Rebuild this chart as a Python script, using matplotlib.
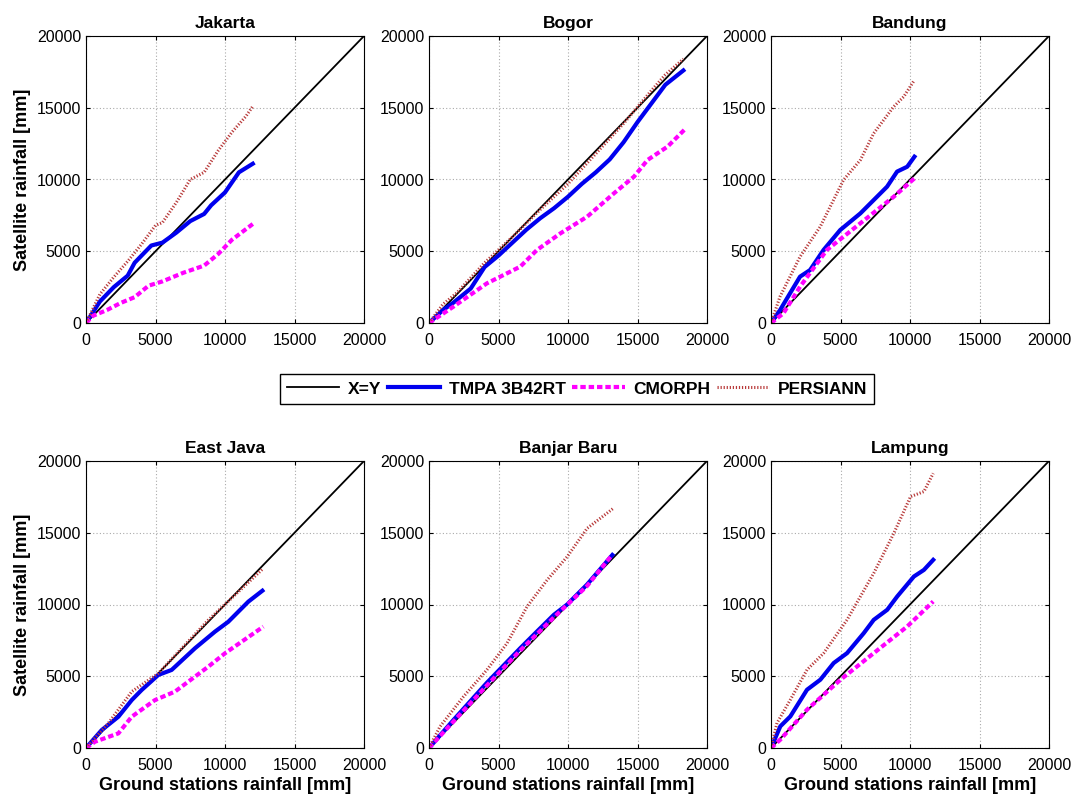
import matplotlib.pyplot as plt

plt.rcParams["font.family"] = ["Liberation Sans", "DejaVu Sans"]

stations = ["Jakarta", "Bogor", "Bandung", "East Java", "Banjar Baru", "Lampung"]

# cumulative rainfall curves, (ground, satellite) in mm
tmpa_x = [
    [0, 1000, 2000, 3000, 3500, 4000, 4700, 5500, 6500, 7500, 8500, 9000, 10000, 11000, 12000],
    [0, 1000, 1760, 3000, 4000, 5000, 6000, 7000, 8000, 9000, 10000, 11000, 12000, 13000, 14000, 15000, 16000, 17000, 18300],
    [0, 650, 1370, 2090, 2810, 3780, 4980, 6430, 7390, 8350, 9070, 9800, 10320],
    [0, 1130, 2330, 3290, 4000, 5200, 6160, 7840, 9280, 10240, 11680, 12690],
    [0, 1760, 4160, 6570, 7770, 8980, 9940, 11380, 13190],
    [0, 670, 1390, 2590, 3550, 4510, 5470, 6670, 7390, 8360, 9080, 10280, 11000, 11670],
]
tmpa_y = [
    [0, 1500, 2500, 3300, 4200, 4700, 5400, 5600, 6300, 7100, 7600, 8200, 9100, 10500, 11100],
    [0, 900, 1420, 2400, 3900, 4700, 5600, 6500, 7300, 8000, 8800, 9700, 10500, 11400, 12600, 14000, 15300, 16600, 17600],
    [0, 900, 2070, 3230, 3690, 5090, 6480, 7640, 8570, 9500, 10550, 10890, 11590],
    [0, 1250, 2180, 3340, 4040, 5090, 5440, 6950, 8110, 8800, 10200, 10960],
    [0, 1950, 4540, 6960, 8120, 9280, 10000, 11400, 13450],
    [0, 1510, 2200, 4060, 4760, 5920, 6610, 8000, 8930, 9630, 10560, 11950, 12410, 13110],
]
cmorph_x = [
    [0, 500, 1500, 2500, 3500, 4500, 5500, 7000, 8500, 9500, 10500, 12000],
    [0, 1760, 4160, 6570, 7770, 9460, 11380, 13310, 14750, 15720, 17160, 18360],
    [0, 890, 2090, 4020, 6430, 8830, 10320],
    [0, 650, 2330, 3290, 4960, 6400, 8800, 10000, 12760],
    [0, 1760, 4160, 6570, 8980, 11380, 13070],
    [0, 670, 2590, 5000, 7390, 9800, 11670],
]
cmorph_y = [
    [0, 500, 900, 1400, 1800, 2600, 2900, 3500, 4000, 4800, 5800, 6900],
    [0, 1140, 2760, 3930, 5090, 6250, 7410, 9040, 10200, 11360, 12290, 13450],
    [0, 670, 2530, 5090, 6950, 8800, 10080],
    [0, 440, 1020, 2180, 3340, 3930, 5670, 6600, 8460],
    [0, 1850, 4350, 6800, 9100, 11300, 13330],
    [0, 580, 2670, 4760, 6610, 8470, 10210],
]
persiann_x = [
    [0, 1000, 2000, 3000, 4000, 5000, 5500, 6500, 7500, 8500, 9500, 10500, 11500, 12000],
    [0, 1000, 2000, 4000, 6000, 8000, 10000, 12000, 14000, 16000, 17000, 18300],
    [0, 650, 2090, 3540, 5220, 6430, 7390, 8830, 9550, 10320],
    [0, 1600, 3290, 5200, 8800, 12760],
    [0, 790, 2480, 4160, 5610, 7050, 8500, 9940, 11380, 13260],
    [0, 430, 1390, 2590, 3790, 5470, 7390, 8840, 10040, 11000, 11670],
]
persiann_y = [
    [0, 2000, 3200, 4300, 5500, 6800, 7000, 8400, 10000, 10500, 12000, 13300, 14400, 15100],
    [0, 1300, 2100, 4200, 6000, 7900, 9700, 11800, 13900, 16200, 17300, 18400],
    [0, 1840, 4620, 6710, 9970, 11360, 13220, 15080, 15770, 16930],
    [0, 1720, 3930, 5200, 8920, 12520],
    [0, 1490, 3580, 5440, 7290, 9850, 11710, 13330, 15310, 16700],
    [0, 1740, 3360, 5450, 6610, 8930, 12180, 14970, 17520, 17870, 19140],
]

ticks = [0, 5000, 10000, 15000, 20000]
lefts = [86, 429, 771]
tops = [36, 461]
W, H = 1073, 797

fig = plt.figure(figsize=(W / 100, H / 100), dpi=100)
axes = []
for i, name in enumerate(stations):
    row, col = divmod(i, 3)
    ax = fig.add_axes([lefts[col] / W, 1 - (tops[row] + 287) / H, 278 / W, 287 / H])
    axes.append(ax)
    ax.plot(ticks, ticks, color="black", lw=1.3, label="X=Y")
    ax.plot(tmpa_x[i], tmpa_y[i], color="#0000ee", lw=3, label="TMPA 3B42RT")
    ax.plot(cmorph_x[i], cmorph_y[i], color="#ff00ff", lw=3,
            linestyle=(0, (1.3, 0.7)), label="CMORPH")
    ax.plot(persiann_x[i], persiann_y[i], color="#b83a3a", lw=2.2,
            linestyle=(0, (0.4, 0.6)), label="PERSIANN")
    ax.set_xlim(0, 20000)
    ax.set_ylim(0, 20000)
    ax.set_xticks(ticks)
    ax.set_yticks(ticks)
    ax.grid(True, linestyle=(0, (1, 2)), color="#aaaaaa", lw=0.8)
    ax.tick_params(direction="in", top=True, right=True, labelsize=11.5, length=3)
    ax.tick_params(axis="x", pad=7)
    ax.set_title(name, fontsize=12.5, fontweight="bold", pad=6)
    if col == 0:
        ax.set_ylabel("Satellite rainfall [mm]", fontsize=13, fontweight="bold")
    if row == 1:
        ax.set_xlabel("Ground stations rainfall [mm]", fontsize=13, fontweight="bold", labelpad=3)

handles, labels = axes[0].get_legend_handles_labels()
leg = fig.legend(handles, labels, loc="center", ncol=4, bbox_to_anchor=(577 / W, 1 - 389 / H),
                 fancybox=False, edgecolor="black", framealpha=1,
                 prop={"weight": "bold", "size": 12.5}, handlelength=3.0,
                 columnspacing=0.4, handletextpad=0.5, borderpad=0.4)
leg.get_frame().set_linewidth(1.0)

fig.savefig("out.png", dpi=100)
